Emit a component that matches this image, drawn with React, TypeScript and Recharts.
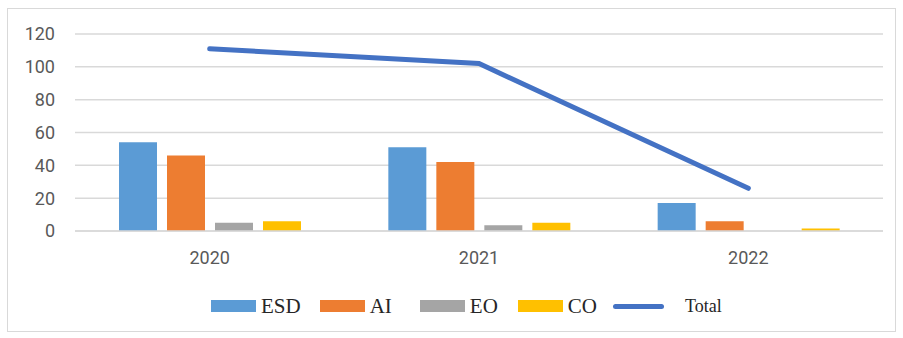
import React from 'react';
import { ComposedChart, Bar, Line, XAxis, YAxis, CartesianGrid, Legend } from 'recharts';

const years = ['2020', '2021', '2022'];
const esd = [54, 51, 17];
const ai = [46, 42, 6];
const eo = [5, 3.5, 0];
const co = [6, 5, 1.5];
const total = [111, 102, 26];
const yTicks = [0, 20, 40, 60, 80, 100, 120];

const data = years.map((year, i) => ({ year, ESD: esd[i], AI: ai[i], EO: eo[i], CO: co[i], Total: total[i] }));

const legendItems = [
  { name: 'ESD', color: '#5B9BD5', kind: 'rect', size: 21, after: 19 },
  { name: 'AI', color: '#ED7D31', kind: 'rect', size: 21, after: 28 },
  { name: 'EO', color: '#A5A5A5', kind: 'rect', size: 21, after: 20 },
  { name: 'CO', color: '#FFC000', kind: 'rect', size: 21, after: 16 },
  { name: 'Total', color: '#4472C4', kind: 'line', size: 18, after: 0 },
];

const LegendBox = () => (
  <div style={{ display: 'flex', alignItems: 'center', paddingLeft: 211, fontFamily: '"Liberation Serif", serif', color: '#262626' }}>
    {legendItems.map((it) => (
      <div key={it.name} style={{ display: 'flex', alignItems: 'center', marginRight: it.after }}>
        {it.kind === 'rect'
          ? <div style={{ width: 45, height: 12, background: it.color, marginRight: 5 }} />
          : <div style={{ width: 51, height: 5, borderRadius: 3, background: it.color, marginRight: 21 }} />}
        <span style={{ fontSize: it.size, lineHeight: '24px' }}>{it.name}</span>
      </div>
    ))}
  </div>
);

export default function App() {
  return (
    <div style={{ position: 'absolute', left: 0, top: 0, width: 903, height: 338, background: '#fff' }}>
      <div style={{ position: 'absolute', left: 7, top: 8, width: 889, height: 324, border: '1px solid #d9d9d9', boxSizing: 'border-box' }} />
      <div style={{ position: 'absolute', left: 0, top: 0 }}>
        <ComposedChart width={903} height={338} data={data} margin={{ top: 34, right: 20, left: 0, bottom: 20 }}
          barSize={38} barGap={10}>
          <CartesianGrid vertical={false} stroke="#d9d9d9" strokeWidth={1.5} />
          <XAxis dataKey="year" height={63} tickLine={false} axisLine={{ stroke: '#d9d9d9', strokeWidth: 1.5 }}
            tickMargin={14} tick={{ fill: '#595959', fontSize: 18, fontFamily: 'Roboto' }} />
          <YAxis width={75} domain={[0, 120]} ticks={yTicks} tickLine={false} axisLine={false}
            tickSize={8} tickMargin={12} tick={{ fill: '#595959', fontSize: 18, fontFamily: 'Roboto' }} />
          <Legend verticalAlign="bottom" height={24} wrapperStyle={{ left: 0, width: 903 }} content={() => <LegendBox />} />
          <Bar dataKey="ESD" fill="#5B9BD5" isAnimationActive={false} />
          <Bar dataKey="AI" fill="#ED7D31" isAnimationActive={false} />
          <Bar dataKey="EO" fill="#A5A5A5" isAnimationActive={false} />
          <Bar dataKey="CO" fill="#FFC000" isAnimationActive={false} />
          <Line dataKey="Total" stroke="#4472C4" strokeWidth={5} strokeLinecap="round" dot={false} isAnimationActive={false} />
        </ComposedChart>
      </div>
    </div>
  );
}
